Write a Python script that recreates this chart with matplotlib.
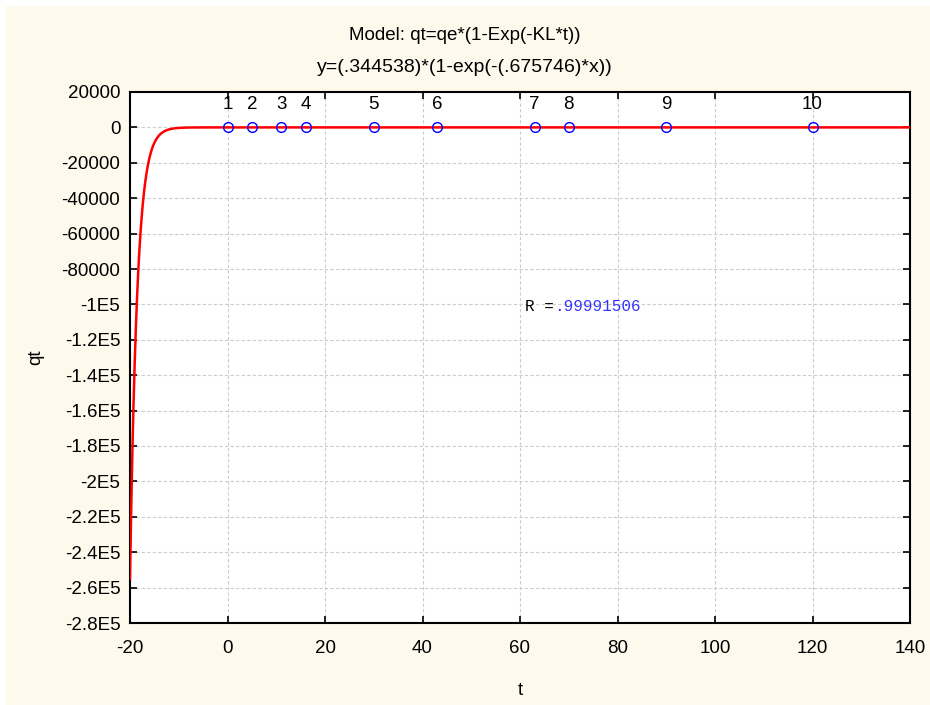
import numpy as np
import matplotlib.pyplot as plt
from matplotlib.patches import Rectangle

# observed data
t = [0, 5, 11, 16, 30, 43, 63, 70, 90, 120]
qt = [0.0, 0.33, 0.345, 0.344, 0.345, 0.344, 0.345, 0.344, 0.345, 0.344]
labels = ['1', '2', '3', '4', '5', '6', '7', '8', '9', '10']

# fitted parameters
qe = 0.344538
KL = 0.675746
R = '.99991506'

yticks = [20000, 0, -20000, -40000, -60000, -80000, -1e5, -1.2e5, -1.4e5,
          -1.6e5, -1.8e5, -2e5, -2.2e5, -2.4e5, -2.6e5, -2.8e5]
ytick_labels = ['20000', '0', '-20000', '-40000', '-60000', '-80000', '-1E5',
                '-1.2E5', '-1.4E5', '-1.6E5', '-1.8E5', '-2E5', '-2.2E5',
                '-2.4E5', '-2.6E5', '-2.8E5']
xticks = [-20, 0, 20, 40, 60, 80, 100, 120, 140]

plt.rcParams['font.family'] = ['Liberation Sans', 'DejaVu Sans']

fig = plt.figure(figsize=(9.3, 7.05), dpi=100, facecolor='white')
fig.patches.append(Rectangle((6/930, 0), 1, 1 - 6/705, transform=fig.transFigure,
                             facecolor='#fef9ed', edgecolor='none', zorder=-10))
ax = fig.add_axes([130/930, 1 - 623/705, 780/930, 531/705])
ax.set_facecolor('white')

# fitted curve
xs = np.linspace(-20, 140, 2000)
ax.plot(xs, qe * (1 - np.exp(-KL * xs)), color='red', lw=1.8, zorder=3)

# observations
ax.plot(t, qt, 'o', ms=7, mfc='none', mec='blue', mew=1.0, zorder=4)
for x, y, lab in zip(t, qt, labels):
    ax.annotate(lab, (x, y), xytext=(0, 16.5), textcoords='offset points',
                ha='center', va='center', fontsize=13.5)

ax.annotate('R =', (61, -1.01e5), family='Liberation Mono', fontsize=11.5,
            va='center', ha='left')
ax.annotate(R, (61, -1.01e5), xytext=(3 * 0.6 * 11.5, 0),
            textcoords='offset points', family='Liberation Mono',
            fontsize=11.5, va='center', ha='left', color='#3333ff')

ax.set_xlim(-20, 140)
ax.set_ylim(-2.8e5, 20000)
ax.set_xticks(xticks)
ax.set_xticklabels([str(v) for v in xticks])
ax.set_yticks(yticks)
ax.set_yticklabels(ytick_labels)
ax.tick_params(direction='in', length=5, width=1.2, labelsize=13.5,
               top=True, right=True, color='black')
ax.tick_params(axis='x', pad=12)
ax.tick_params(axis='y', pad=7)
ax.grid(True, ls=(0, (3, 2)), color='#cccccc', lw=0.8)
for s in ax.spines.values():
    s.set_linewidth(1.5)

ax.set_xlabel('t', fontsize=13.5, labelpad=18)
ax.set_ylabel('qt', fontsize=13.5, labelpad=12)

fig.text(0.5, 1 - 35/705, 'Model: qt=qe*(1-Exp(-KL*t))', ha='center',
         va='center', fontsize=13.5)
fig.text(0.5, 1 - 67/705, 'y=(.344538)*(1-exp(-(.675746)*x))', ha='center',
         va='center', fontsize=14)

fig.savefig('out.png', dpi=100, facecolor=fig.get_facecolor())
